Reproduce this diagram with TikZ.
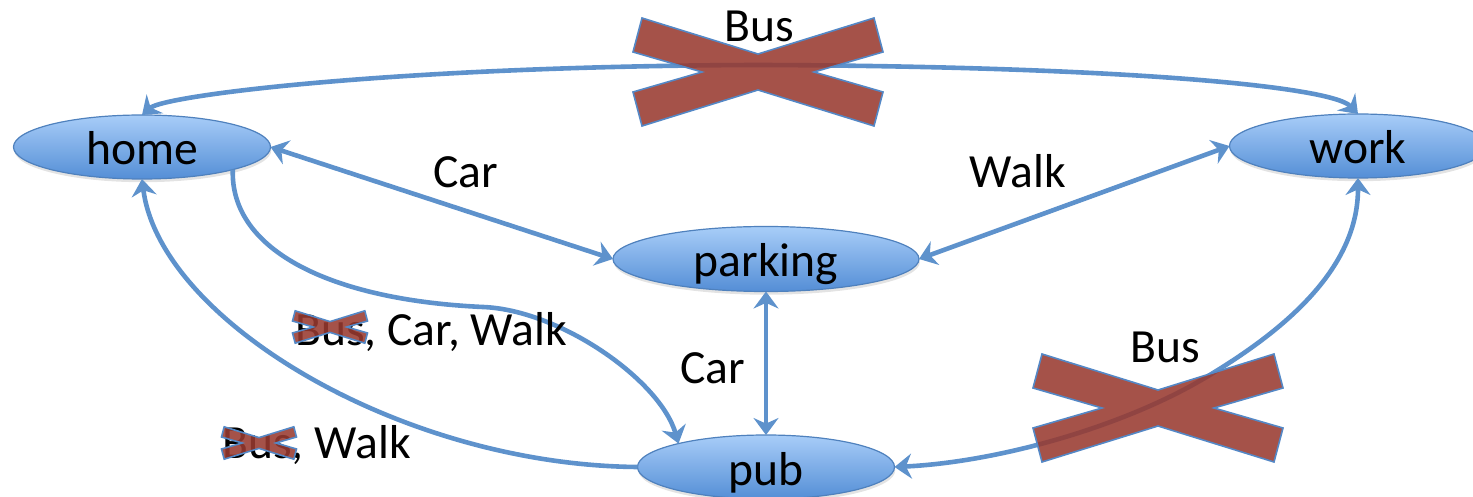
\documentclass[tikz,border=0pt]{standalone}
\usepackage{fontspec}
\setmainfont{Carlito}
\usetikzlibrary{arrows.meta,shapes.geometric,shadows}

\definecolor{edgeblue}{RGB}{94,146,204}
\definecolor{nodetop}{RGB}{168,205,248}
\definecolor{nodebot}{RGB}{84,142,214}
\definecolor{nodeborder}{RGB}{79,129,189}
\definecolor{xfill}{RGB}{152,58,48}
\definecolor{xedge}{RGB}{84,136,198}

\newcommand\diagfont{\fontsize{23.8pt}{28pt}\selectfont}

\begin{document}
\begin{tikzpicture}[x=0.5pt,y=-0.5pt,
  >={Stealth[length=8.5pt,width=12.5pt,inset=2.8pt]},
  place/.style={ellipse, draw=nodeborder, line width=0.6pt,
    top color=nodetop, bottom color=nodebot,
    minimum width=128.5pt, minimum height=32pt,
    inner sep=0pt, outer sep=0pt, text height=18pt, text depth=0pt,
    font=\diagfont,
    drop shadow={opacity=0.22, shadow xshift=0.4pt, shadow yshift=-1.6pt}},
  link/.style={draw=edgeblue, line width=2.3pt},
  lbl/.style={inner sep=0pt, anchor=base, font=\diagfont},
  xmark/.pic={
    \path[fill=xfill, fill opacity=0.88, draw=xedge, line width=0.8pt]
      (-116,-54) -- (0,-18) -- (116,-54) -- (125,-20) -- (56,0) -- (125,20)
      -- (116,54) -- (0,18) -- (-116,54) -- (-125,20) -- (-56,0) -- (-125,-20)
      -- cycle;
  }]
\useasboundingbox (0,0) rectangle (1473,497);
\clip (0,0) rectangle (1473,497);

% places
\node[place] (home) at (142,147) {home};
\node[place] (work) at (1358,146) {work};
\node[place, minimum width=153pt, minimum height=32.5pt] (parking) at (766,259) {parking};
\node[place] (pub) at (766,467) {pub};

% connections
\draw[link,<->] (home.north) .. controls (165,95) and (400,66) .. (758,65)
  .. controls (1100,66) and (1330,85) .. (work.north);
\draw[link,<->] (home.east) -- (parking.west);
\draw[link,<->] (work.west) -- (parking.east);
\draw[link,<->] (parking.south) -- (pub.north);
\draw[link,->] (home.-14) .. controls (230,250) and (330,300) .. (483,307)
  .. controls (560,310) and (660,380) .. (pub.165);
\draw[link,->] (pub.west) .. controls (400,465) and (160,320) .. (home.south);
\draw[link,<->] (work.south) .. controls (1358,260) and (1300,320) .. (1213,373)
  .. controls (1130,425) and (1000,462) .. (pub.east);

% struck-out bus routes
\pic at (758,72) {xmark};
\pic at (1158,408) {xmark};

% labels
\node[lbl] (busTop) at (759,42) {Bus};
\node[lbl] (busLow) at (1165,363) {Bus};
\node[lbl] (carTop) at (466,188) {Car};
\node[lbl] (walkTop) at (1018,188) {Walk};
\node[lbl] (carMid) at (713,383) {Car};
\node[lbl, anchor=base west] (modesA) at (295,345) {Bus, Car, Walk};
\node[lbl, anchor=base west] (modesB) at (222,458) {Bus, Walk};

% bus struck out in the mixed labels
\pic[scale=0.3] at (330,327) {xmark};
\pic[scale=0.3] at (259,443) {xmark};
\end{tikzpicture}
\end{document}
